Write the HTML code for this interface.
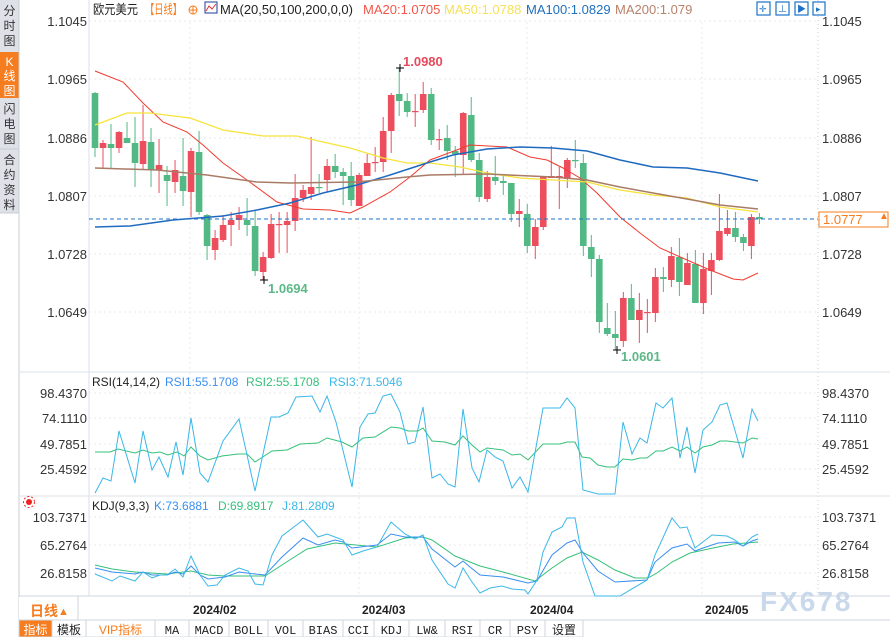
<!DOCTYPE html>
<html><head><meta charset="utf-8"><style>
body{margin:0;background:#fff;width:890px;height:637px;overflow:hidden;font-family:"Liberation Sans","Noto Sans CJK SC",sans-serif}
svg{position:absolute;left:0;top:0}
</style></head><body>
<svg id="s" width="890" height="637" xmlns="http://www.w3.org/2000/svg" font-family="Liberation Sans, Noto Sans CJK SC, sans-serif">
<rect width="890" height="637" fill="#fff"/>
<rect x="0" y="0" width="19" height="213" fill="#dfe1e8"/>
<rect x="0" y="52" width="19" height="46" fill="#f57c1f"/>
<line x1="0" y1="149" x2="19" y2="149" stroke="#c8ccd4"/>
<line x1="19" y1="0" x2="19" y2="620" stroke="#c8ccd4"/>
<line x1="0" y1="213" x2="19" y2="213" stroke="#c8ccd4"/>
<g font-size="12" fill="#333" text-anchor="middle">
<text x="9.5" y="15">分</text><text x="9.5" y="30">时</text><text x="9.5" y="45">图</text>
<text x="9.5" y="66" fill="#fff">K</text><text x="9.5" y="80" fill="#fff">线</text><text x="9.5" y="95" fill="#fff">图</text>
<text x="9.5" y="113">闪</text><text x="9.5" y="128">电</text><text x="9.5" y="143">图</text>
<text x="9.5" y="164">合</text><text x="9.5" y="179">约</text><text x="9.5" y="194">资</text><text x="9.5" y="209">料</text>
</g>
<line x1="89" y1="0" x2="89" y2="596" stroke="#dde"/>
<line x1="818" y1="0" x2="818" y2="596" stroke="#ccc" stroke-dasharray="1,3"/>
<line x1="19" y1="372" x2="890" y2="372" stroke="#dde3ea"/>
<line x1="19" y1="496" x2="890" y2="496" stroke="#dde3ea"/>
<line x1="19" y1="596" x2="890" y2="596" stroke="#cfd6de"/>
<line x1="19" y1="620" x2="890" y2="620" stroke="#cfd6de"/>
<g id="grid" stroke="#e8e8e8" stroke-dasharray="2,3"></g>
<g font-size="13" fill="#333" text-anchor="end" id="ylab"></g>
<g font-size="13" fill="#333" id="ylabr"></g>
<text x="93" y="14" font-size="13" fill="#222" textLength="45" lengthAdjust="spacingAndGlyphs">欧元美元</text>
<text x="145" y="14" font-size="13" fill="#f57c1f" textLength="37" lengthAdjust="spacingAndGlyphs">【日线】</text>
<circle cx="193" cy="10" r="4" fill="none" stroke="#f57c1f"/><line x1="189" y1="10" x2="197" y2="10" stroke="#f57c1f"/><line x1="193" y1="6" x2="193" y2="14" stroke="#f57c1f"/>
<rect x="205" y="2" width="12" height="11" fill="#fff" stroke="#1a3f9a"/><polyline points="206,11 209,6 212,9 216,4" fill="none" stroke="#d33"/>
<text x="220" y="14" font-size="13" fill="#222">MA(20,50,100,200,0,0)</text>
<text x="363" y="14" font-size="13" fill="#f2574a">MA20:1.0705</text>
<text x="444" y="14" font-size="13" fill="#f5e15a">MA50:1.0788</text>
<text x="526" y="14" font-size="13" fill="#1f6fbf">MA100:1.0829</text>
<text x="615" y="14" font-size="13" fill="#b8826a">MA200:1.079</text>
<g fill="none" stroke="#1a73c8" stroke-width="1.2">
<rect x="757" y="2" width="13" height="13"/><rect x="776" y="2" width="13" height="13"/><rect x="795" y="2" width="13" height="13"/>
<rect x="813" y="2" width="12" height="13"/>
</g>
<g fill="#1a73c8" font-size="9"><text x="759" y="12">✛</text><text x="778" y="12">⊥</text><text x="797" y="12">▶</text><text x="816" y="12">▸</text></g>
<g id="plot"></g>
<line x1="89" y1="219" x2="818" y2="219" stroke="#1a73c8" stroke-dasharray="4,3"/>
<rect x="819" y="212" width="69" height="15" fill="#fff" stroke="#f57c1f"/>
<text x="823" y="224" font-size="13" fill="#f57c1f">1.0777</text>
<text x="879" y="219" font-size="10" fill="#f57c1f">▲</text>
<text x="403" y="66" font-size="13" font-weight="bold" fill="#e54b5c">1.0980</text>
<text x="268" y="293" font-size="13" font-weight="bold" fill="#5cb886">1.0694</text>
<text x="621" y="361" font-size="13" font-weight="bold" fill="#5cb886">1.0601</text>
<g stroke="#000"><line x1="396" y1="68" x2="404" y2="68"/><line x1="400" y1="64" x2="400" y2="72"/>
<line x1="260" y1="280" x2="268" y2="280"/><line x1="264" y1="276" x2="264" y2="284"/>
<line x1="613" y1="350" x2="621" y2="350"/><line x1="617" y1="346" x2="617" y2="354"/></g>
<text x="92" y="386" font-size="12" fill="#222">RSI(14,14,2)</text>
<text x="165" y="386" font-size="12" fill="#3a8ff0">RSI1:55.1708</text>
<text x="246" y="386" font-size="12" fill="#35c07a">RSI2:55.1708</text>
<text x="329" y="386" font-size="12" fill="#3ab7e8">RSI3:71.5046</text>
<text x="92" y="510" font-size="12" fill="#222">KDJ(9,3,3)</text>
<text x="154" y="510" font-size="12" fill="#3a8ff0">K:73.6881</text>
<text x="218" y="510" font-size="12" fill="#35c07a">D:69.8917</text>
<text x="282" y="510" font-size="12" fill="#3ab7e8">J:81.2809</text>
<circle cx="29" cy="502" r="3" fill="#e22"/><circle cx="29" cy="502" r="5.5" fill="none" stroke="#e22" stroke-dasharray="2,2"/>
<rect x="19" y="597" width="59" height="22" fill="#fff"/>
<line x1="78" y1="596" x2="78" y2="620" stroke="#cfd6de"/>
<text x="30" y="616" font-size="14" fill="#f57c1f" font-weight="bold">日线</text><text x="58" y="615" font-size="11" fill="#f57c1f">▲</text>
<g font-size="12" font-weight="bold" fill="#222">
<text x="193" y="614">2024/02</text><text x="362" y="614">2024/03</text><text x="530" y="614">2024/04</text><text x="705" y="614">2024/05</text></g>
<text x="760" y="611" font-size="28" font-weight="bold" fill="#c9d8ea" letter-spacing="2">FX678</text>
<g id="tb" font-size="12"></g>
</svg>
<script>
const NS="http://www.w3.org/2000/svg";
function el(p,t,a,txt){const e=document.createElementNS(NS,t);for(const k in a)e.setAttribute(k,a[k]);if(txt!=null)e.textContent=txt;document.getElementById(p).appendChild(e);return e;}
[[21,"1.1045"],[79,"1.0965"],[138,"1.0886"],[196,"1.0807"],[254,"1.0728"],[312,"1.0649"],[393,"98.4370"],[418,"74.1110"],[444,"49.7851"],[469,"25.4592"],[517,"103.7371"],[545,"65.2764"],[573,"26.8158"]].forEach(([y,t])=>{
 el("grid","line",{x1:89,y1:y,x2:818,y2:y});
 el("ylab","text",{x:87,y:y+5},t);el("ylabr","text",{x:822,y:y+5},t);
});
[190,359,527,702].forEach(x=>el("grid","line",{x1:x,y1:22,x2:x,y2:596}));
const C=`93,148,92,157,G;143,148,140,169,R;144,148,124,168,G;132,148,131,153,R;138,143,122,143,G;143,163,117,187,G;141,164,105,170,R;142,170,128,187,G;165,170,139,193,R;175,181,166,206,G;170,182,160,193,R;176,191,138,206,G;151,192,148,217,R;152,212,131,215,G;215,246,214,260,G;238,250,230,260,R;225,240,215,242,R;220,225,212,246,R;215,220,207,230,R;220,225,198,236,G;226,271,210,276,G;257,272,252,280,R;224,258,214,259,R;224,225,212,253,R;221,225,212,253,R;198,221,174,231,R;190,198,185,202,R;187,194,137,200,R;187,188,174,193,G;166,180,159,192,R;166,172,154,178,G;172,176,168,205,G;176,200,162,206,G;175,206,173,206,R;163,176,154,176,R;162,162,147,172,R;131,162,117,172,R;95,131,93,153,R;94,101,68,116,G;101,112,93,117,G;111,111,94,127,R;94,110,82,113,R;94,140,88,145,G;139,140,129,150,R;138,151,125,160,G;151,154,146,177,G;113,155,112,175,R;115,160,97,162,G;160,197,153,202,G;177,199,171,202,R;177,181,156,185,G;181,183,175,195,G;183,214,183,222,G;211,214,199,227,R;214,246,204,253,G;227,246,219,259,R;177,227,176,230,R;176,178,146,178,R;176,178,167,209,R;160,179,158,188,R;160,161,140,168,G;163,246,154,256,G;247,259,235,277,G;259,322,255,333,G;328,334,303,336,G;334,338,311,350,G;298,341,292,347,R;298,320,284,320,G;310,320,293,343,R;312,313,299,333,R;277,313,268,322,R;277,279,267,292,G;256,280,247,287,R;257,282,238,296,G;263,285,253,285,R;264,303,250,303,G;269,303,253,314,R;260,271,253,295,R;231,260,194,261,R;228,234,210,236,R;228,237,212,242,G;237,243,234,251,G;217,246,214,259,R;217,219,213,224,G`.split(";");
C.forEach((s,i)=>{const [a,b,c,d,k]=s.split(",");const x=95+i*8.005;const col=k=="R"?"#ec4e5e":"#52b985";
 el("plot","line",{x1:x,y1:c,x2:x,y2:d,stroke:col,"stroke-width":1});
 el("plot","rect",{x:x-3.3,y:a,width:6.6,height:Math.max(1.2,b-a),fill:col});});
function pl(pts,col,w){el("plot","polyline",{points:pts,fill:"none",stroke:col,"stroke-width":w||1});}
pl("95,71 123,82 143,103 163,122 187,132 203,145 223,163 247,180 277,202 303,209 330,210 350,213 363,207 390,192 410,177 430,160 470,145 507,147 530,157 547,160 563,168 580,178 597,193 620,217 640,233 660,248 687,260 710,270 733,279 743,280 758,273","#f03a2e");
pl("95,125 127,113 150,113 190,118 223,130 263,136 297,136 323,142 350,148 383,158 407,163 430,163 460,167 487,173 520,178 587,182 620,190 653,195 687,198 720,207 758,212","#f7e33a",1.3);
pl("95,227 130,226 173,220 223,216 257,210 290,203 323,193 357,185 390,175 430,162 453,155 487,149 520,147 553,148 587,151 620,160 653,167 687,168 720,173 758,181","#1f6abf",1.5);
pl("95,168 157,170 207,175 257,182 290,183 357,182 407,177 430,175 487,174 553,177 587,180 620,187 653,193 687,199 720,205 758,209","#a97b66",1.5);
pl("95,452 110,452 118,449 135,453 143,450 152,453 160,452 168,455 177,452 184,456 191,447 200,456 208,460 222,456 238,454 247,454 255,462 272,451 287,450 300,444 318,443 327,438 342,442 352,447 363,438 375,437 391,427 400,428 408,431 418,431 423,428 432,441 445,442 455,445 463,436 472,445 480,452 487,448 503,450 512,455 520,454 528,460 543,444 560,444 567,442 575,442 582,457 590,458 598,465 607,467 615,467 623,459 632,460 640,458 647,458 656,451 663,451 672,447 680,451 687,447 695,453 703,447 712,445 720,441 727,441 743,443 752,438 758,439","#35c07a");
pl("95,493 103,478 111,481 119,431 135,483 143,431 152,470 159,457 168,477 176,442 183,475 191,418 200,473 208,482 223,441 239,419 255,491 271,417 279,417 288,413 296,397 312,396 320,412 327,396 336,422 352,487 360,427 368,414 375,413 383,396 391,394 400,412 408,444 415,442 423,407 432,478 440,474 448,484 455,487 463,409 472,468 479,482 487,450 495,457 503,461 512,488 520,477 528,492 543,408 560,408 567,398 575,408 583,490 598,494 615,494 623,422 632,454 640,438 647,443 656,403 663,408 672,398 680,458 687,427 695,473 703,430 712,422 720,405 727,403 743,458 752,409 758,421","#3ab7e8");
pl("95,565 112,569 135,572 167,574 191,571 208,575 225,576 265,576 285,563 307,549 335,543 377,547 405,538 423,537 432,540 455,556 470,562 480,566 503,572 535,581 552,568 567,558 582,552 598,560 615,570 635,578 648,578 657,573 672,562 690,553 713,548 733,544 758,542","#35c07a");
pl("95,568 112,572 135,574 143,572 152,575 167,575 175,572 183,574 191,566 200,575 208,579 225,577 239,572 255,574 265,575 282,557 303,538 318,545 335,540 343,542 352,548 377,545 391,534 405,537 423,537 432,549 455,567 463,561 470,567 480,575 503,577 528,583 537,581 552,555 567,543 575,540 583,553 598,571 615,582 647,580 655,562 672,548 687,544 695,551 703,548 718,543 735,542 743,546 752,541 758,539","#3a8ff0");
pl("95,574 112,581 120,576 135,581 143,572 152,578 160,575 167,575 175,569 183,577 191,556 200,575 208,586 217,585 225,575 239,568 248,571 255,584 263,585 272,555 282,536 303,520 318,537 327,534 343,540 352,555 363,551 377,547 391,522 405,534 415,539 423,535 432,560 448,584 455,588 463,568 472,582 480,593 490,588 502,586 512,589 525,590 528,594 537,580 543,552 552,532 562,527 567,518 575,518 583,562 595,596 620,596 647,580 655,555 672,518 680,528 687,527 695,548 712,535 727,536 735,540 743,546 752,537 758,534","#3ab7e8");
const tb=[["指标",19,52,1],["模板",52,86],["VIP指标",86,155,2],["MA",155,189],["MACD",189,229],["BOLL",229,268],["VOL",268,303],["BIAS",303,343],["CCI",343,374],["KDJ",374,409],["LW&",409,445],["RSI",445,480],["CR",480,510],["PSY",510,545],["设置",545,583]];
tb.forEach(([t,a,b,f])=>{el("tb","rect",{x:a,y:620,width:b-a,height:17,fill:f==1?"#f57c1f":"#fff",stroke:"#cfd6de"});
 el("tb","text",{x:(a+b)/2,y:634,"text-anchor":"middle",fill:f==1?"#fff":f==2?"#f57c1f":"#222","font-family":f?"Liberation Sans, Noto Sans CJK SC, sans-serif":"Liberation Mono, Noto Sans CJK SC, monospace"},t);});
</script>
</body></html>
